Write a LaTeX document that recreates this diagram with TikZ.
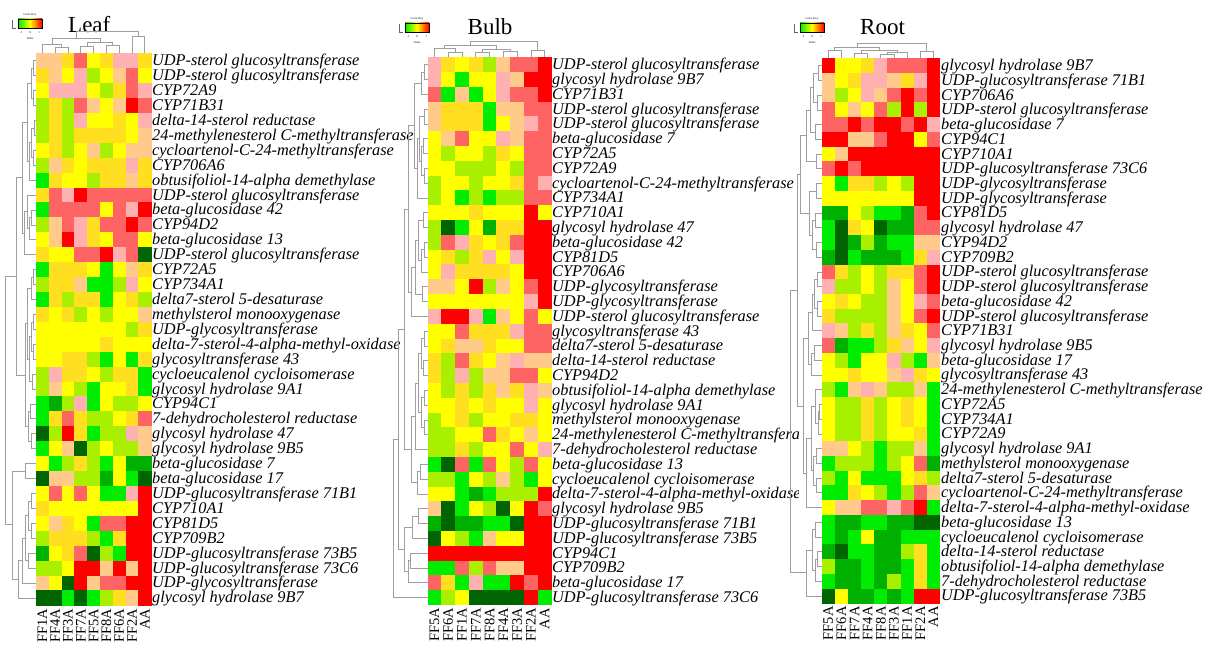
\documentclass[tikz,border=0pt]{standalone}
\usepackage{fontspec}
\setmainfont{Liberation Serif}
\definecolor{hR}{HTML}{FF0000}
\definecolor{hS}{HTML}{FF6464}
\definecolor{hP}{HTML}{FFB0B0}
\definecolor{hO}{HTML}{FFCA8A}
\definecolor{hD}{HTML}{FFDF20}
\definecolor{hY}{HTML}{FFFF00}
\definecolor{hL}{HTML}{A8F000}
\definecolor{hG}{HTML}{00EC00}
\definecolor{hM}{HTML}{00B000}
\definecolor{hK}{HTML}{006400}
\tikzset{
  lab/.style={anchor=base west, inner sep=0pt, font=\fontsize{16.3}{16}\selectfont\itshape},
  clab/.style={anchor=east, rotate=90, inner sep=0pt, font=\fontsize{14.5}{14}\selectfont},
  ttl/.style={anchor=base west, inner sep=0pt, font=\fontsize{23}{23}\selectfont},
  dend/.style={draw=black!38, line width=0.7pt},
  keytxt/.style={inner sep=0pt, font=\fontsize{3}{3}\selectfont}
}
\newcommand\heatmapdraw[1]{%
  \foreach \rw [count=\i] in {#1} {
    \foreach \cc [count=\j] in \rw {
      \fill[fill=h\cc] ({\Xo+(\j-1)*\Ww},{\Yo+(\i-1)*\Hh}) rectangle ++(\Ww+0.3,\Hh+0.3);
    }
  }}
\newcommand\dendR[5]{\draw[dend] (#1,{\Yo+(#2-0.5)*\Hh}) -- (#5,{\Yo+(#2-0.5)*\Hh}) -- (#5,{\Yo+(#4-0.5)*\Hh}) -- (#3,{\Yo+(#4-0.5)*\Hh});}
\newcommand\dendC[5]{\draw[dend] ({\Xo+(#1-0.5)*\Ww},#2) -- ({\Xo+(#1-0.5)*\Ww},#5) -- ({\Xo+(#3-0.5)*\Ww},#5) -- ({\Xo+(#3-0.5)*\Ww},#4);}
\newcommand\colorkey[3]{% #1 x, #2 y, #3 prefix
  \node[keytxt] (#3kt) at (#1+12,#2-4) {Color Key};
  \shade[left color=hG, right color=hR, middle color=hY] (#1,#2) rectangle ++(24,9);
  \draw[black, line width=0.5pt] (#1,#2) rectangle ++(24,9);
  \draw[black!60, line width=0.4pt] (#1-6,#2+1) -- (#1-6,#2+9) -- (#1-2,#2+9);
  \node[keytxt] (#3k1) at (#1+3,#2+14) {-1};
  \node[keytxt] (#3k2) at (#1+12,#2+14) {0};
  \node[keytxt] (#3k3) at (#1+21,#2+14) {1};
  \node[keytxt] (#3kv) at (#1+12,#2+19) {Value};
}
\begin{document}
\begin{tikzpicture}[x=1pt,y=-1pt]
\useasboundingbox (0,0) rectangle (1227,647);
\fill[white] (0,0) rectangle (1227,647);

% ================= LEAF =================
\begin{scope}
\def\Xo{36}\def\Yo{53.3}\def\Ww{12.8}\def\Hh{14.92}
\heatmapdraw{
{O,O,D,S,Y,D,P,P,D},{D,O,Y,P,L,Y,O,S,Y},{Y,P,P,P,Y,L,D,S,P},{L,D,L,S,O,Y,O,R,S},
{L,D,L,P,Y,Y,D,Y,P},{L,D,L,D,D,D,D,Y,O},{Y,D,L,Y,O,L,Y,O,O},{L,O,D,Y,D,D,D,P,D},
{G,D,Y,Y,L,D,D,O,D},{D,S,P,R,S,S,S,S,S},{G,S,S,S,S,Y,S,P,R},{L,O,S,P,D,S,S,R,S},
{Y,O,R,P,D,Y,S,S,Y},{D,Y,Y,S,S,R,P,S,K},{G,D,D,D,Y,G,Y,O,D},{L,D,D,O,G,G,L,P,Y},
{G,D,L,D,D,G,Y,D,L},{D,Y,D,L,Y,L,Y,Y,O},{Y,Y,Y,Y,Y,Y,Y,L,D},{Y,Y,Y,Y,Y,D,Y,Y,Y},
{Y,Y,D,D,L,G,Y,G,D},{L,P,D,D,Y,L,D,D,G},{L,O,Y,L,G,Y,Y,D,G},{G,M,L,P,G,Y,L,L,Y},
{G,D,S,D,L,L,Y,D,S},{K,L,R,D,G,L,L,P,O},{G,Y,O,K,L,Y,L,L,O},{Y,G,L,D,L,G,Y,M,M},
{K,O,O,L,L,M,Y,G,K},{Y,S,Y,S,Y,G,G,P,R},{D,Y,Y,Y,Y,Y,Y,Y,R},{Y,O,D,Y,G,S,S,R,R},
{L,D,D,D,L,G,D,R,R},{M,Y,D,S,K,L,G,R,R},{L,L,Y,R,R,O,R,O,R},{O,Y,K,R,O,S,S,R,R},
{K,K,G,K,G,L,D,O,R}}
\foreach \t [count=\i] in {UDP-sterol glucosyltransferase, UDP-sterol glucosyltransferase, CYP72A9, CYP71B31,
 delta-14-sterol reductase, 24-methylenesterol C-methyltransferase, cycloartenol-C-24-methyltransferase,
 CYP706A6, obtusifoliol-14-alpha demethylase, UDP-sterol glucosyltransferase, beta-glucosidase 42, CYP94D2,
 beta-glucosidase 13, UDP-sterol glucosyltransferase, CYP72A5, CYP734A1, delta7-sterol 5-desaturase,
 methylsterol monooxygenase, UDP-glycosyltransferase, delta-7-sterol-4-alpha-methyl-oxidase,
 glycosyltransferase 43, cycloeucalenol cycloisomerase, glycosyl hydrolase 9A1, CYP94C1,
 7-dehydrocholesterol reductase, glycosyl hydrolase 47, glycosyl hydrolase 9B5, beta-glucosidase 7,
 beta-glucosidase 17, UDP-glucosyltransferase 71B1, CYP710A1, CYP81D5, CYP709B2,
 UDP-glucosyltransferase 73B5, UDP-glucosyltransferase 73C6, UDP-glycosyltransferase, glycosyl hydrolase 9B7}
 { \node[lab] (leafr\i) at (152,{\Yo+(\i-0.5)*\Hh+5}) {\t}; }
\foreach \t [count=\j] in {FF1A,FF4A,FF3A,FF7A,FF5A,FF8A,FF6A,FF2A,AA}
 { \node[clab] (leafc\j) at ({\Xo+(\j-0.5)*\Ww},{\Yo+37*\Hh+3}) {\t}; }
\node[ttl] (leaft) at (68,33) {Leaf};
\colorkey{18}{19}{leaf}
\dendR{36}{1}{36}{2}{33}
\dendR{36}{3}{36}{4}{33}
\dendR{33}{1.5}{33}{3.5}{31}
\dendR{36}{5}{36}{6}{34}
\dendR{36}{7}{36}{8}{33}
\dendR{34}{5.5}{33}{7.5}{31}
\dendR{31}{6.5}{36}{9}{29}
\dendR{31}{2.5}{29}{7.75}{27}
\dendR{36}{11}{36}{12}{31}
\dendR{31}{11.5}{36}{13}{29}
\dendR{36}{10}{29}{12.25}{27}
\dendR{27}{11.125}{36}{14}{24}
\dendR{27}{5.125}{24}{12.5625}{22}
\dendR{36}{15}{36}{16}{33}
\dendR{33}{15.5}{36}{17}{31}
\dendR{36}{18}{36}{19}{33}
\dendR{36}{20}{36}{21}{33}
\dendR{33}{18.5}{33}{20.5}{31}
\dendR{36}{22}{36}{23}{32}
\dendR{31}{19.5}{32}{22.5}{29}
\dendR{31}{16.25}{29}{21}{27}
\dendR{36}{24}{36}{25}{30}
\dendR{36}{26}{36}{27}{31}
\dendR{30}{24.5}{31}{26.5}{28}
\dendR{27}{18.625}{28}{25.5}{25}
\dendR{22}{8.84}{25}{22.06}{16}
\dendR{36}{28}{36}{29}{25}
\dendR{36}{30}{36}{31}{31}
\dendR{36}{32}{36}{33}{31}
\dendR{31}{30.5}{31}{32.5}{28}
\dendR{36}{34}{36}{35}{28}
\dendR{28}{31.5}{28}{34.5}{25}
\dendR{25}{33}{36}{36}{22}
\dendR{22}{34.5}{36}{37}{18}
\dendR{25}{28.5}{18}{35.75}{12}
\dendR{16}{15.45}{12}{32.1}{5}
\dendC{2}{53.3}{3}{53.3}{47}
\dendC{1}{53.3}{2.5}{47}{44}
\dendC{4}{53.3}{5}{53.3}{46}
\dendC{6}{53.3}{7}{53.3}{45}
\dendC{4.5}{46}{6.5}{45}{42}
\dendC{1.75}{44}{5.5}{42}{38}
\dendC{8}{53.3}{9}{53.3}{36}
\dendC{3.625}{38}{8.5}{36}{31}
\end{scope}

% ================= BULB =================
\begin{scope}
\def\Xo{427.5}\def\Yo{57.3}\def\Ww{13.78}\def\Hh{14.8}
\heatmapdraw{
{P,D,Y,D,L,O,S,S,R},{P,Y,G,Y,Y,P,O,R,R},{S,G,O,G,Y,P,S,S,R},{O,D,D,D,G,O,O,S,S},
{O,D,D,D,G,Y,O,P,S},{Y,O,S,Y,Y,P,O,S,S},{Y,L,Y,Y,L,D,Y,S,S},{Y,Y,L,L,L,Y,L,S,S},
{L,Y,Y,L,Y,Y,D,S,P},{L,Y,G,L,G,L,L,S,S},{Y,Y,Y,D,Y,Y,Y,R,Y},{L,K,G,Y,M,D,D,R,R},
{L,S,P,D,Y,D,S,R,R},{Y,D,L,D,P,Y,P,R,R},{Y,P,D,D,D,D,Y,R,R},{O,O,Y,R,L,O,Y,S,R},
{Y,Y,Y,Y,Y,Y,Y,P,R},{P,R,R,P,G,O,Y,S,Y},{Y,Y,S,D,D,D,P,S,S},{Y,D,O,O,D,Y,Y,S,S},
{D,L,S,D,Y,O,P,O,O},{D,L,P,L,O,O,S,S,Y},{Y,L,D,L,D,O,D,P,O},{Y,Y,D,Y,D,Y,Y,P,Y},
{L,Y,D,L,Y,Y,D,D,Y},{L,L,Y,Y,S,D,Y,O,Y},{L,L,D,L,Y,Y,S,Y,P},{G,K,S,G,S,Y,L,S,Y},
{L,L,G,Y,L,O,L,G,Y},{Y,Y,G,M,G,L,L,L,R},{O,K,G,Y,L,K,Y,R,S},{M,K,M,M,G,G,K,R,R},
{K,Y,L,G,O,Y,Y,R,R},{R,R,R,R,R,R,R,R,R},{G,G,S,L,S,O,O,R,R},{S,D,G,P,G,G,R,S,R},
{G,L,Y,K,K,K,K,R,G}}
\begin{scope}
\clip (545,40) rectangle (798,625);
\foreach \t [count=\i] in {UDP-sterol glucosyltransferase, glycosyl hydrolase 9B7, CYP71B31,
 UDP-sterol glucosyltransferase, UDP-sterol glucosyltransferase, beta-glucosidase 7, CYP72A5, CYP72A9,
 cycloartenol-C-24-methyltransferase, CYP734A1, CYP710A1, glycosyl hydrolase 47, beta-glucosidase 42,
 CYP81D5, CYP706A6, UDP-glycosyltransferase, UDP-glycosyltransferase, UDP-sterol glucosyltransferase,
 glycosyltransferase 43, delta7-sterol 5-desaturase, delta-14-sterol reductase, CYP94D2,
 obtusifoliol-14-alpha demethylase, glycosyl hydrolase 9A1, methylsterol monooxygenase,
 24-methylenesterol C-methyltransferase, 7-dehydrocholesterol reductase, beta-glucosidase 13,
 cycloeucalenol cycloisomerase, delta-7-sterol-4-alpha-methyl-oxidase, glycosyl hydrolase 9B5,
 UDP-glucosyltransferase 71B1, UDP-glucosyltransferase 73B5, CYP94C1, CYP709B2, beta-glucosidase 17,
 UDP-glucosyltransferase 73C6}
 { \node[lab] (bulbr\i) at (552,{\Yo+(\i-0.5)*\Hh+5}) {\t}; }
\end{scope}
\foreach \t [count=\j] in {FF5A,FF6A,FF1A,FF7A,FF8A,FF4A,FF3A,FF2A,AA}
 { \node[clab] (bulbc\j) at ({\Xo+(\j-0.5)*\Ww},{\Yo+37*\Hh+3}) {\t}; }
\node[ttl] (bulbt) at (467.5,35) {Bulb};
\colorkey{405}{23}{bulb}
\dendR{427.5}{1}{427.5}{2}{424}
\dendR{424}{1.5}{427.5}{3}{421}
\dendR{427.5}{4}{427.5}{5}{424}
\dendR{427.5}{6}{427.5}{7}{423}
\dendR{427.5}{8}{427.5}{9}{424}
\dendR{423}{6.5}{424}{8.5}{421}
\dendR{424}{4.5}{421}{7.5}{419}
\dendR{419}{6}{427.5}{10}{417}
\dendR{421}{2.25}{417}{8}{414}
\dendR{427.5}{11}{427.5}{12}{423}
\dendR{427.5}{13}{427.5}{14}{424}
\dendR{424}{13.5}{427.5}{15}{421}
\dendR{423}{11.5}{421}{14.25}{418}
\dendR{427.5}{16}{427.5}{17}{422}
\dendR{418}{12.875}{422}{16.5}{415}
\dendR{415}{14.69}{427.5}{18}{411}
\dendR{414}{5.125}{411}{16.35}{408}
\dendR{427.5}{19}{427.5}{20}{424}
\dendR{427.5}{21}{427.5}{22}{423}
\dendR{424}{19.5}{423}{21.5}{421}
\dendR{427.5}{23}{427.5}{24}{424}
\dendR{427.5}{25}{427.5}{26}{424}
\dendR{424}{23.5}{424}{25.5}{421}
\dendR{421}{20.5}{421}{24.5}{418}
\dendR{418}{22.5}{427.5}{27}{415}
\dendR{427.5}{28}{427.5}{29}{420}
\dendR{420}{28.5}{427.5}{30}{417}
\dendR{415}{24.75}{417}{29.25}{411}
\dendR{408}{10.74}{411}{27}{404}
\dendR{427.5}{31}{427.5}{32}{418}
\dendR{418}{31.5}{427.5}{33}{412}
\dendR{427.5}{34}{427.5}{35}{410}
\dendR{410}{34.5}{427.5}{36}{408}
\dendR{412}{32.25}{408}{35.25}{404}
\dendR{404}{18.87}{404}{33.75}{398}
\dendR{398}{26.3}{427.5}{37}{393}
\dendC{2}{57.3}{3}{57.3}{52}
\dendC{1}{57.3}{2.5}{52}{48}
\dendC{4}{57.3}{5}{57.3}{52}
\dendC{6}{57.3}{7}{57.3}{51}
\dendC{4.5}{52}{6.5}{51}{49}
\dendC{1.75}{48}{5.5}{49}{45}
\dendC{8}{57.3}{9}{57.3}{50}
\dendC{3.625}{45}{8.5}{50}{41}
\end{scope}

% ================= ROOT =================
\begin{scope}
\def\Xo{821.7}\def\Yo{58.3}\def\Ww{13.14}\def\Hh{14.73}
\heatmapdraw{
{R,Y,Y,D,P,S,S,S,R},{O,Y,D,P,P,O,D,P,R},{O,L,Y,P,O,S,R,S,R},{S,Y,O,Y,S,L,R,L,R},
{S,S,R,S,R,R,S,R,P},{R,R,O,O,S,R,R,Y,S},{Y,O,R,R,R,R,R,R,R},{S,R,S,R,R,R,R,R,R},
{Y,G,D,D,L,Y,L,R,R},{Y,Y,Y,Y,Y,Y,Y,R,R},{M,M,Y,L,G,G,M,S,R},{G,K,D,Y,K,M,M,S,S},
{G,K,M,L,M,G,G,O,O},{M,K,G,M,M,M,G,D,P},{S,D,L,Y,L,D,D,S,R},{P,L,L,Y,L,O,Y,S,R},
{Y,D,Y,L,L,O,Y,P,S},{D,L,L,L,L,O,Y,S,R},{P,O,L,D,L,O,D,Y,S},{S,M,G,G,L,D,O,Y,P},
{Y,L,G,Y,Y,P,L,G,O},{Y,Y,D,Y,Y,O,P,D,Y},{L,G,O,P,O,L,L,O,G},{Y,L,L,D,L,Y,D,Y,G},
{Y,L,L,D,L,Y,D,Y,G},{Y,L,L,D,L,Y,Y,D,G},{O,O,Y,L,G,L,L,O,G},{G,L,L,L,G,L,Y,S,M},
{L,G,Y,G,G,G,Y,D,L},{G,G,D,Y,L,G,L,S,O},{Y,O,O,S,S,P,S,R,G},{G,M,M,G,G,M,M,K,K},
{G,M,G,Y,M,M,G,G,G},{M,K,G,G,M,M,L,D,G},{L,M,M,G,M,M,G,D,G},{G,M,M,G,M,L,G,D,G},
{K,Y,M,M,G,M,G,R,R}}
\foreach \t [count=\i] in {glycosyl hydrolase 9B7, UDP-glucosyltransferase 71B1, CYP706A6,
 UDP-sterol glucosyltransferase, beta-glucosidase 7, CYP94C1, CYP710A1, UDP-glucosyltransferase 73C6,
 UDP-glycosyltransferase, UDP-glycosyltransferase, CYP81D5, glycosyl hydrolase 47, CYP94D2, CYP709B2,
 UDP-sterol glucosyltransferase, UDP-sterol glucosyltransferase, beta-glucosidase 42,
 UDP-sterol glucosyltransferase, CYP71B31, glycosyl hydrolase 9B5, beta-glucosidase 17,
 glycosyltransferase 43, 24-methylenesterol C-methyltransferase, CYP72A5, CYP734A1, CYP72A9,
 glycosyl hydrolase 9A1, methylsterol monooxygenase, delta7-sterol 5-desaturase,
 cycloartenol-C-24-methyltransferase, delta-7-sterol-4-alpha-methyl-oxidase, beta-glucosidase 13,
 cycloeucalenol cycloisomerase, delta-14-sterol reductase, obtusifoliol-14-alpha demethylase,
 7-dehydrocholesterol reductase, UDP-glucosyltransferase 73B5}
 { \node[lab] (rootr\i) at (941,{\Yo+(\i-0.5)*\Hh+5}) {\t}; }
\foreach \t [count=\j] in {FF5A,FF6A,FF7A,FF4A,FF8A,FF3A,FF1A,FF2A,AA}
 { \node[clab] (rootc\j) at ({\Xo+(\j-0.5)*\Ww},{\Yo+37*\Hh+3}) {\t}; }
\node[ttl] (roott) at (860,35) {Root};
\colorkey{800}{23}{root}
\dendR{821.7}{1}{821.7}{2}{818}
\dendR{821.7}{3}{821.7}{4}{817}
\dendR{818}{1.5}{817}{3.5}{813}
\dendR{821.7}{5}{821.7}{6}{815}
\dendR{813}{2.5}{815}{5.5}{810}
\dendR{821.7}{7}{821.7}{8}{816}
\dendR{810}{4}{816}{7.5}{806}
\dendR{821.7}{9}{821.7}{10}{816}
\dendR{821.7}{11}{821.7}{12}{815}
\dendR{821.7}{13}{821.7}{14}{816}
\dendR{815}{11.5}{816}{13.5}{812}
\dendR{816}{9.5}{812}{12.5}{809}
\dendR{806}{5.75}{809}{11}{800}
\dendR{821.7}{15}{821.7}{16}{817}
\dendR{821.7}{17}{821.7}{18}{817}
\dendR{817}{15.5}{817}{17.5}{814}
\dendR{814}{16.5}{821.7}{19}{812}
\dendR{821.7}{20}{821.7}{21}{814}
\dendR{814}{20.5}{821.7}{22}{811}
\dendR{812}{17.75}{811}{21.25}{808}
\dendR{821.7}{24}{821.7}{25}{819}
\dendR{819}{24.5}{821.7}{26}{818}
\dendR{821.7}{23}{818}{25.25}{815}
\dendR{821.7}{27}{821.7}{28}{816}
\dendR{821.7}{29}{821.7}{30}{816}
\dendR{816}{27.5}{816}{29.5}{813}
\dendR{815}{24.125}{813}{28.5}{811}
\dendR{811}{26.3}{821.7}{31}{806}
\dendR{808}{19.5}{806}{28.65}{803}
\dendR{800}{8.375}{803}{24.1}{797}
\dendR{821.7}{32}{821.7}{33}{815}
\dendR{821.7}{34}{821.7}{35}{817}
\dendR{817}{34.5}{821.7}{36}{815}
\dendR{815}{32.5}{815}{35.25}{812}
\dendR{812}{33.9}{821.7}{37}{806}
\dendR{797}{16.24}{806}{35.4}{790}
\dendC{1}{58.3}{2}{58.3}{50}
\dendC{3}{58.3}{4}{58.3}{53}
\dendC{5}{58.3}{6}{58.3}{54}
\dendC{5.5}{54}{7}{58.3}{52}
\dendC{3.5}{53}{6.25}{52}{50}
\dendC{1.5}{50}{4.875}{50}{47}
\dendC{8}{58.3}{9}{58.3}{51}
\dendC{3.19}{47}{8.5}{51}{43}
\end{scope}
\end{tikzpicture}
\end{document}
